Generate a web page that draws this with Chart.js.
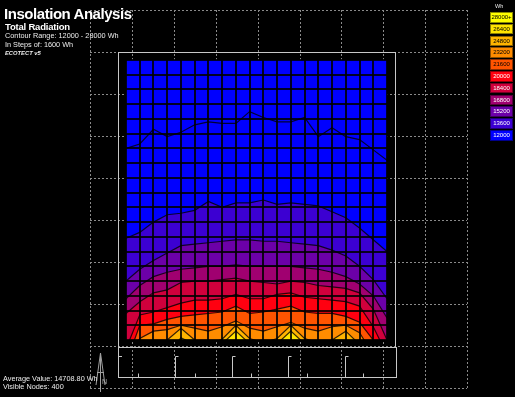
<!DOCTYPE html>
<html>
<head>
<meta charset="utf-8">
<script src="https://cdn.jsdelivr.net/npm/chart.js@4.4.0/dist/chart.umd.min.js"></script>
<style>
  html, body { margin: 0; padding: 0; background: #000; }
  #wrap { position: relative; width: 515px; height: 397px; overflow: hidden; font-family: "Liberation Sans", Arial, sans-serif; color: #fff; }
  #chart { position: absolute; left: 0; top: 0; }
  .txt { position: absolute; white-space: nowrap; line-height: 1; color: #ececec; }
  .key { position: absolute; left: 490px; width: 23px; height: 10.5px; box-sizing: border-box; border: 1px solid rgba(0,0,0,0.45); font-size: 6px; line-height: 8.5px; text-align: center; }
</style>
</head>
<body>
<div id="wrap">
  <canvas id="chart" width="515" height="397"></canvas>
  <div class="txt" style="left:4px;top:5.6px;font-size:15px;font-weight:bold;letter-spacing:-0.45px;color:#fff">Insolation Analysis</div>
  <div class="txt" style="left:5px;top:22px;font-size:9.5px;font-weight:bold;letter-spacing:-0.2px;color:#fff">Total Radiation</div>
  <div class="txt" style="left:5px;top:32.1px;font-size:7.3px">Contour Range: 12000 - 28000 Wh</div>
  <div class="txt" style="left:5px;top:41.3px;font-size:7.3px">In Steps of: 1600 Wh</div>
  <div class="txt" style="left:5px;top:51px;font-size:5.8px;font-weight:bold;font-style:italic">ECOTECT v5</div>
  <div class="txt" style="left:3px;top:374.5px;font-size:7.3px">Average Value: 14708.80 Wh</div>
  <div class="txt" style="left:3px;top:383.1px;font-size:7.3px">Visible Nodes: 400</div>
  <div class="txt" style="left:102px;top:378px;font-size:7px;color:#b0b0b0">N</div>
  <div class="txt" style="left:495px;top:3.5px;font-size:5.5px">Wh</div>
  <div id="legend"></div>
</div>
<script>
// grid columns (nodes across the floor) and contour levels
const columns = [0, 1, 2, 3, 4, 5, 6, 7, 8, 9, 10, 11, 12, 13, 14, 15, 16, 17, 18, 19];
const levels = [12000, 13600, 15200, 16800, 18400, 20000, 21600, 23200, 24800, 26400];
const bandColors = ['#0000ff', '#3c00d2', '#6c00a8', '#a00070', '#d0003c', '#ff0010', '#ff5400', '#ff8c00', '#ffb400', '#ffe400'];

// height of each contour line above the bottom edge, in grid cells, per column
const h12000 = [13.0, 13.3, 14.3, 13.8, 14.1, 14.6, 14.8, 14.7, 14.7, 15.5, 15.1, 14.8, 14.8, 15.1, 13.8, 14.4, 13.8, 13.6, 12.9, 12.2];
const h13600 = [6.9, 7.3, 8.0, 8.5, 8.6, 8.8, 9.4, 9.0, 9.3, 9.3, 9.5, 9.2, 9.3, 9.2, 9.1, 8.7, 8.3, 7.6, 6.8, 6.0];
const h15200 = [4.0, 4.8, 5.4, 5.9, 6.4, 6.5, 6.6, 6.7, 6.8, 6.8, 6.7, 6.7, 6.6, 6.5, 6.4, 6.1, 5.7, 5.0, 4.1, 2.8];
const h16800 = [2.8, 3.7, 4.3, 4.6, 4.8, 4.9, 5.0, 5.0, 5.1, 5.0, 5.0, 5.0, 5.0, 4.9, 4.8, 4.6, 4.3, 3.8, 3.0, 1.5];
const h18400 = [1.8, 2.6, 3.2, 3.4, 3.9, 4.0, 4.0, 4.1, 4.2, 4.0, 3.9, 3.8, 4.0, 3.9, 3.7, 3.6, 3.5, 3.2, 2.1, 0.0];
const h20000 = [-0.6, 1.7, 1.9, 2.2, 2.5, 2.7, 2.7, 2.8, 3.1, 2.8, 2.8, 3.1, 3.2, 2.9, 2.8, 2.7, 2.6, 2.3, 0.9, -1.0];
const h21600 = [-1.6, 1.0, 1.1, 1.4, 1.6, 1.7, 1.8, 1.9, 2.3, 1.8, 1.9, 2.1, 2.3, 1.9, 1.8, 1.8, 1.6, 1.2, 0.0, -2.0];
const h23200 = [-2.0, 0.1, 0.6, 0.7, 1.0, 0.8, 0.6, 0.9, 1.3, 0.8, 0.6, 0.9, 1.2, 0.8, 0.6, 0.9, 1.0, 0.5, -1.0, -3.0];
const h24800 = [-2.0, -1.0, -0.4, 0.0, 0.8, 0.0, -0.3, 0.05, 1.0, 0.1, -0.2, 0.1, 1.0, 0.1, -0.2, 0.0, 0.6, -0.3, -1.5, -3.0];
const h26400 = [-2.0, -2.0, -2.0, -1.0, 0.15, -0.3, -1.0, -0.25, 0.6, -0.25, -1.0, -0.25, 0.6, -0.25, -1.0, -1.0, -1.0, -1.0, -2.0, -2.0];

// legend scale
const legendLabels = ['28000+', '26400', '24800', '23200', '21600', '20000', '18400', '16800', '15200', '13600', '12000'];
const legendColors = ['#ffff00', '#ffe400', '#ffb400', '#ff8c00', '#ff5400', '#ff0010', '#d0003c', '#a00070', '#6c00a8', '#3c00d2', '#0000ff'];

const legend = document.getElementById('legend');
legendLabels.forEach((label, i) => {
  const el = document.createElement('div');
  el.className = 'key';
  el.style.top = (12 + i * 11.8) + 'px';
  el.style.background = legendColors[i];
  el.style.color = i < 5 ? '#000' : '#fff';
  el.textContent = label;
  legend.appendChild(el);
});

const contours = [h12000, h13600, h15200, h16800, h18400, h20000, h21600, h23200, h24800, h26400];

// ground grid, floor outline, section strip and north arrow
const scenery = {
  id: 'scenery',
  beforeDraw(chart) {
    const { ctx, chartArea: a } = chart;
    ctx.save();
    ctx.lineWidth = 1;
    ctx.strokeStyle = '#8a8a8a';
    ctx.setLineDash([2, 2]);
    for (let i = 0; i < 10; i++) {
      const x = Math.round(90 + i * 41.9) + 0.5;
      ctx.beginPath(); ctx.moveTo(x, 10); ctx.lineTo(x, 388); ctx.stroke();
      const y = Math.round(10 + i * 42) + 0.5;
      ctx.beginPath(); ctx.moveTo(90, y); ctx.lineTo(467, y); ctx.stroke();
    }
    ctx.setLineDash([]);

    ctx.strokeStyle = '#c8c8c8';
    ctx.strokeRect(a.left - 7.5, a.top - 7.5, a.width + 16, a.height + 15);
    const secTop = a.bottom + 7.5, secBot = secTop + 30;
    ctx.strokeRect(a.left - 7.5, secTop, a.width + 17, 30);
    ctx.beginPath();
    [49.5, 106.5, 162.5, 219.5].forEach(dx => {
      ctx.moveTo(a.left + dx, secBot); ctx.lineTo(a.left + dx, secTop + 9); ctx.lineTo(a.left + dx + 3, secTop + 9);
    });
    [12.5, 69.5, 125.5, 181.5, 237.5].forEach(dx => {
      ctx.moveTo(a.left + dx, secBot); ctx.lineTo(a.left + dx, secBot - 4);
    });
    ctx.moveTo(a.left - 7, secTop + 9); ctx.lineTo(a.left - 4, secTop + 9);
    ctx.stroke();

    ctx.strokeStyle = '#a0a0a0';
    ctx.beginPath();
    ctx.moveTo(96, 385); ctx.lineTo(100.5, 353); ctx.lineTo(105, 385);
    ctx.moveTo(100.5, 353); ctx.lineTo(100.5, 392);
    ctx.moveTo(97, 372.5); ctx.lineTo(104, 372.5);
    ctx.stroke();

    ctx.fillStyle = bandColors[0];
    ctx.fillRect(a.left, a.top, a.width, a.height);
    ctx.restore();
  }
};

const cellAxis = {
  type: 'linear', min: 0, max: 19,
  ticks: { display: false, stepSize: 1, maxTicksLimit: 30, autoSkip: false },
  grid: { color: 'rgba(0,0,0,0.85)', lineWidth: 2, drawTicks: false, z: 1 },
  border: { display: false }
};

new Chart(document.getElementById('chart'), {
  type: 'line',
  data: {
    datasets: contours.map((h, k) => ({
      label: levels[k] + ' Wh',
      data: columns.map((c, i) => ({ x: c, y: h[i] })),
      borderColor: 'rgba(0,0,0,0.8)',
      borderWidth: 1.2,
      backgroundColor: bandColors[k],
      fill: 'origin',
      pointRadius: 0,
      tension: 0,
      order: contours.length - k
    }))
  },
  options: {
    responsive: false,
    animation: false,
    devicePixelRatio: 1,
    events: [],
    layout: { autoPadding: false, padding: { left: 126, top: 60, right: 128, bottom: 57 } },
    plugins: { legend: { display: false }, tooltip: { enabled: false } },
    scales: {
      x: { ...cellAxis },
      y: { ...cellAxis }
    }
  },
  plugins: [scenery]
});
</script>
</body>
</html>
